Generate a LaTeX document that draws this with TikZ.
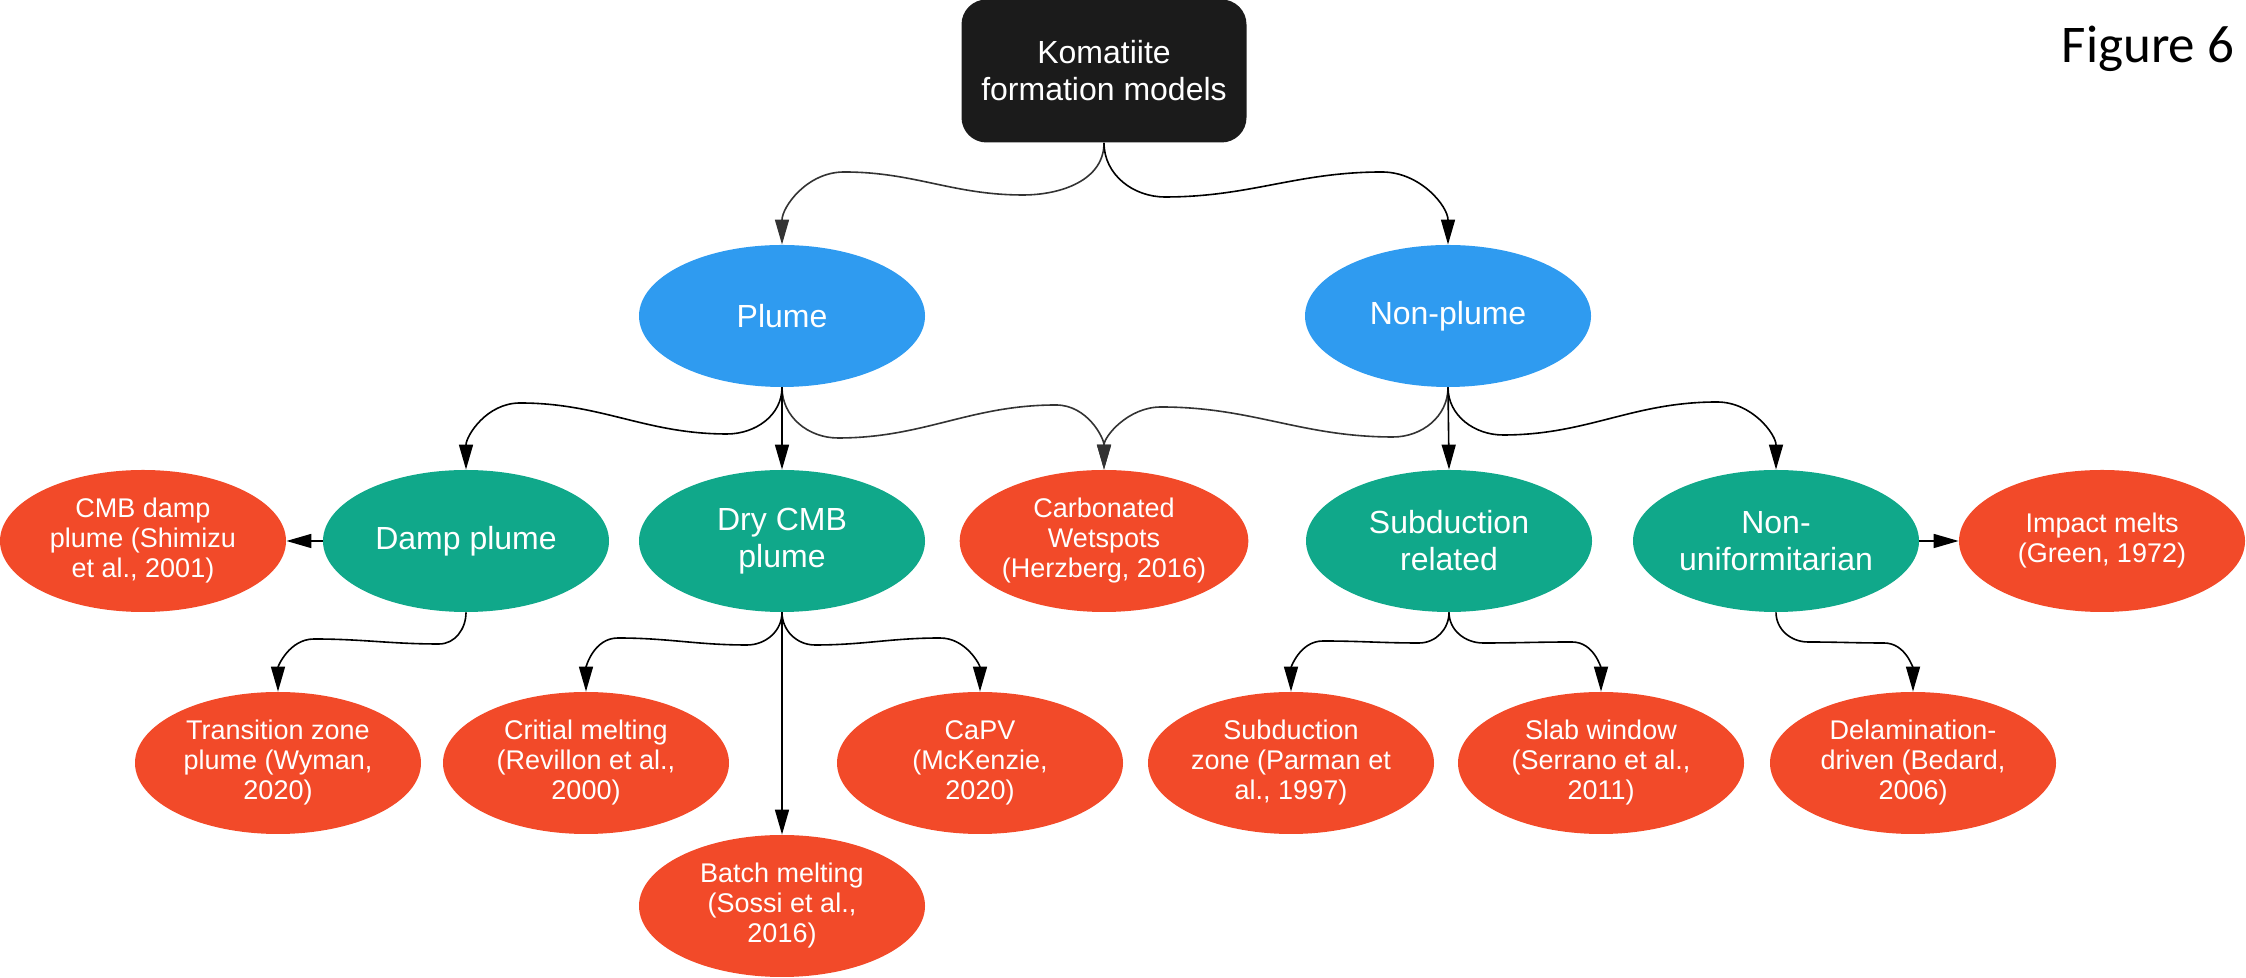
\documentclass[tikz,border=0pt]{standalone}
\usepackage{fontspec}
\setmainfont{Liberation Sans}
\newfontfamily\figfont{Carlito}
\usepackage{tikz}
\usetikzlibrary{shapes.geometric,arrows.meta}

\definecolor{rootgray}{HTML}{1B1B1B}
\definecolor{modelblue}{HTML}{2F9BF0}
\definecolor{typegreen}{HTML}{10A88A}
\definecolor{refred}{HTML}{F24A29}
\definecolor{linkgray}{HTML}{333333}

\tikzset{
	bubble/.style={ellipse,minimum width=143pt,minimum height=71pt,inner sep=0pt,text=white,align=center},
	model/.style={bubble,fill=modelblue,font=\fontsize{16}{18.5}\selectfont},
	kind/.style={bubble,fill=typegreen,font=\fontsize{16}{18.5}\selectfont},
	paper/.style={bubble,fill=refred,font=\fontsize{13.5}{15}\selectfont},
	link/.style={draw=black,line width=0.8pt,-{Triangle[length=12.5pt,width=7pt]}}
}

% source, target, heading, back, low point, high point
\newcommand{\branch}[7][black]{%
	\draw[link,draw=#1,#1] (#2.south) to[out=-90,in=#5] (#6) to[out=#4,in=#5] (#7) to[out=#4,in=90] (#3.north);}

\begin{document}
\begin{tikzpicture}[x=0.5pt,y=0.5pt]
			\useasboundingbox (0,0) rectangle (2246,978);
			\node[rounded corners=12.5pt,fill=rootgray,text=white,align=center,minimum width=142.5pt,minimum height=71.5pt,inner sep=0pt,font=\fontsize{16}{18.5}\selectfont] (root) at (1104,907) {Komatiite\\formation models};
			\node[font=\figfont\fontsize{26.5}{30}\selectfont,anchor=base,inner sep=0pt] (figlabel) at (2148,915) {Figure 6};

			\node[model] (plume) at (782,662) {Plume};
			\node[model] (nonplume) at (1448,662) {Non-plume};

			\node[paper] (cmbdamp) at (143,437) {CMB damp\\plume (Shimizu\\et al., 2001)};
			\node[kind] (damp) at (466,437) {Damp plume};
			\node[kind] (dry) at (782,437) {Dry CMB\\plume};
			\node[paper] (wetspot) at (1104,437) {Carbonated\\Wetspots\\(Herzberg, 2016)};
			\node[kind] (subrel) at (1449,437) {Subduction\\related};
			\node[kind] (nonunif) at (1776,437) {Non-\\uniformitarian};
			\node[paper] (impact) at (2102,437) {Impact melts\\(Green, 1972)};

			\node[paper] (transition) at (278,215) {Transition zone\\plume (Wyman,\\2020)};
			\node[paper] (critial) at (586,215) {Critial melting\\(Revillon et al.,\\2000)};
			\node[paper] (capv) at (980,215) {CaPV\\(McKenzie,\\2020)};
			\node[paper] (subzone) at (1291,215) {Subduction\\zone (Parman et\\al., 1997)};
			\node[paper] (slab) at (1601,215) {Slab window\\(Serrano et al.,\\2011)};
			\node[paper] (delam) at (1913,215) {Delamination-\\driven (Bedard,\\2006)};
			\node[paper] (batch) at (782,72) {Batch melting\\(Sossi et al.,\\2016)};

			\branch[linkgray]{root}{plume}{180}{0}{1023,783}{844,806}
			\branch{root}{nonplume}{0}{180}{1165,781}{1382,806}
			\branch{plume}{damp}{180}{0}{727,544}{520,575}
			\branch[linkgray]{plume}{wetspot}{0}{180}{838,540}{1056,573}
			\branch[linkgray]{nonplume}{wetspot}{180}{0}{1393,541}{1161,571}
			\branch{nonplume}{nonunif}{0}{180}{1503,543}{1717,576}
			\draw[link] (plume.south) -- (dry.north);
			\draw[link] (nonplume.south) -- (subrel.north);
			\draw[link] (damp.west) -- (cmbdamp.east);
			\draw[link] (nonunif.east) -- (impact.west);

			\branch{damp}{transition}{180}{0}{439,334}{314,339}
			\branch{dry}{critial}{180}{0}{747,333}{618,340}
			\branch{dry}{capv}{0}{180}{815,333}{940,340}
			\draw[link] (dry.south) -- (batch.north);
			\branch{subrel}{subzone}{180}{0}{1419,335}{1323,337}
			\branch{subrel}{slab}{0}{180}{1483,335}{1572,336}
			\branch{nonunif}{delam}{0}{180}{1808,336}{1884,335}
		\end{tikzpicture}
\end{document}
